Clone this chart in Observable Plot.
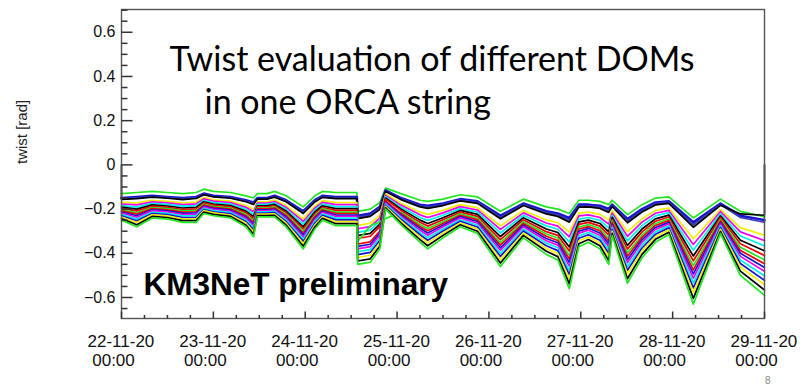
<!DOCTYPE html>
<html>
<head>
<meta charset="utf-8">
<script src="https://cdn.jsdelivr.net/npm/d3@7"></script>
<script src="https://cdn.jsdelivr.net/npm/@observablehq/plot@0.6"></script>
<style>
  html, body { margin: 0; padding: 0; background: #fff; }
  #chart { width: 808px; height: 385px; overflow: hidden; }
</style>
</head>
<body>
<div id="chart"></div>
<script>
// Time axis: 22-11-20 00:00 to 29-11-20 00:00 (UTC)
const runStart = Date.UTC(2020, 10, 22);
const runEnd = Date.UTC(2020, 10, 29);
const yDomain = [-0.695, 0.703];

// Hours since run start at which the twist was read out
const hours = [0, 4, 8, 12, 16, 19.5, 21.5, 24, 28.5, 32.5,
  34.5, 35.5, 38, 40, 43, 47.5, 50.5, 52.5, 56, 61.5,
  61.7, 65, 67.5, 69, 73, 78, 80, 84, 88.5, 93,
  99, 105, 111, 114, 117, 119.5, 122, 125, 127.3, 128.2,
  132.2, 136, 139.5, 143, 149.4, 156.5, 161.7, 168];

// Twist [rad]; one row per readout time, columns are DOM 1 ... DOM 18
const twistRows = [
  [-0.13, -0.15, -0.153, -0.156, -0.17, -0.177, -0.184, -0.191, -0.197, -0.203, -0.208, -0.213, -0.218, -0.224, -0.23, -0.236, -0.243, -0.25],
  [-0.125, -0.145, -0.149, -0.153, -0.172, -0.181, -0.191, -0.2, -0.208, -0.217, -0.223, -0.23, -0.237, -0.245, -0.253, -0.261, -0.271, -0.28],
  [-0.12, -0.14, -0.143, -0.146, -0.16, -0.167, -0.174, -0.181, -0.187, -0.193, -0.198, -0.203, -0.208, -0.214, -0.22, -0.226, -0.233, -0.24],
  [-0.125, -0.145, -0.148, -0.151, -0.165, -0.172, -0.179, -0.186, -0.192, -0.198, -0.203, -0.208, -0.213, -0.219, -0.225, -0.231, -0.238, -0.245],
  [-0.13, -0.15, -0.153, -0.157, -0.172, -0.18, -0.187, -0.195, -0.202, -0.208, -0.214, -0.219, -0.225, -0.231, -0.238, -0.245, -0.252, -0.26],
  [-0.125, -0.145, -0.148, -0.152, -0.168, -0.176, -0.184, -0.192, -0.199, -0.206, -0.212, -0.217, -0.223, -0.23, -0.237, -0.244, -0.252, -0.26],
  [-0.11, -0.13, -0.133, -0.135, -0.148, -0.154, -0.161, -0.167, -0.172, -0.178, -0.182, -0.187, -0.191, -0.197, -0.202, -0.207, -0.214, -0.22],
  [-0.12, -0.14, -0.143, -0.145, -0.158, -0.164, -0.171, -0.177, -0.182, -0.188, -0.192, -0.197, -0.201, -0.207, -0.212, -0.217, -0.224, -0.23],
  [-0.125, -0.145, -0.148, -0.151, -0.164, -0.171, -0.177, -0.184, -0.19, -0.195, -0.2, -0.205, -0.21, -0.215, -0.221, -0.227, -0.233, -0.24],
  [-0.14, -0.16, -0.164, -0.167, -0.184, -0.192, -0.201, -0.209, -0.216, -0.224, -0.23, -0.236, -0.242, -0.249, -0.256, -0.263, -0.272, -0.28],
  [-0.15, -0.17, -0.175, -0.179, -0.201, -0.212, -0.223, -0.234, -0.243, -0.252, -0.26, -0.268, -0.275, -0.285, -0.294, -0.303, -0.314, -0.325],
  [-0.13, -0.15, -0.153, -0.155, -0.167, -0.173, -0.179, -0.185, -0.19, -0.195, -0.199, -0.204, -0.208, -0.213, -0.218, -0.223, -0.229, -0.235],
  [-0.13, -0.15, -0.153, -0.155, -0.167, -0.173, -0.179, -0.185, -0.19, -0.195, -0.199, -0.204, -0.208, -0.213, -0.218, -0.223, -0.229, -0.235],
  [-0.12, -0.14, -0.143, -0.146, -0.159, -0.166, -0.172, -0.179, -0.185, -0.19, -0.195, -0.2, -0.205, -0.21, -0.216, -0.222, -0.228, -0.235],
  [-0.14, -0.16, -0.164, -0.167, -0.184, -0.192, -0.201, -0.209, -0.216, -0.224, -0.23, -0.236, -0.242, -0.249, -0.256, -0.263, -0.272, -0.28],
  [-0.19, -0.21, -0.215, -0.22, -0.244, -0.256, -0.268, -0.28, -0.29, -0.3, -0.309, -0.317, -0.326, -0.336, -0.346, -0.356, -0.368, -0.38],
  [-0.14, -0.16, -0.164, -0.168, -0.186, -0.195, -0.204, -0.213, -0.221, -0.229, -0.235, -0.242, -0.248, -0.256, -0.264, -0.272, -0.281, -0.29],
  [-0.12, -0.14, -0.143, -0.147, -0.162, -0.17, -0.177, -0.185, -0.192, -0.198, -0.204, -0.209, -0.215, -0.221, -0.228, -0.235, -0.242, -0.25],
  [-0.125, -0.145, -0.149, -0.153, -0.171, -0.18, -0.189, -0.198, -0.206, -0.214, -0.22, -0.227, -0.233, -0.241, -0.249, -0.257, -0.266, -0.275],
  [-0.125, -0.145, -0.149, -0.153, -0.171, -0.18, -0.189, -0.198, -0.206, -0.214, -0.22, -0.227, -0.233, -0.241, -0.249, -0.257, -0.266, -0.275],
  [-0.21, -0.23, -0.237, -0.243, -0.274, -0.289, -0.305, -0.32, -0.333, -0.347, -0.358, -0.369, -0.38, -0.393, -0.406, -0.419, -0.435, -0.45],
  [-0.2, -0.22, -0.227, -0.233, -0.264, -0.279, -0.295, -0.31, -0.323, -0.275, -0.348, -0.359, -0.37, -0.383, -0.396, -0.409, -0.425, -0.44],
  [-0.17, -0.19, -0.196, -0.201, -0.228, -0.241, -0.255, -0.268, -0.279, -0.257, -0.3, -0.31, -0.319, -0.331, -0.342, -0.353, -0.367, -0.38],
  [-0.105, -0.115, -0.118, -0.12, -0.132, -0.138, -0.144, -0.15, -0.155, -0.243, -0.164, -0.169, -0.173, -0.178, -0.183, -0.188, -0.194, -0.2],
  [-0.13, -0.15, -0.154, -0.157, -0.174, -0.182, -0.191, -0.199, -0.206, -0.214, -0.22, -0.226, -0.232, -0.239, -0.246, -0.253, -0.262, -0.27],
  [-0.16, -0.18, -0.185, -0.19, -0.214, -0.226, -0.238, -0.25, -0.26, -0.27, -0.279, -0.287, -0.296, -0.306, -0.316, -0.326, -0.338, -0.35],
  [-0.165, -0.185, -0.191, -0.197, -0.224, -0.238, -0.251, -0.265, -0.277, -0.288, -0.298, -0.308, -0.318, -0.329, -0.341, -0.353, -0.366, -0.38],
  [-0.155, -0.175, -0.18, -0.184, -0.206, -0.217, -0.228, -0.239, -0.248, -0.257, -0.265, -0.273, -0.28, -0.29, -0.299, -0.308, -0.319, -0.33],
  [-0.135, -0.155, -0.159, -0.163, -0.18, -0.189, -0.198, -0.206, -0.214, -0.221, -0.228, -0.234, -0.24, -0.248, -0.255, -0.263, -0.271, -0.28],
  [-0.145, -0.165, -0.169, -0.174, -0.194, -0.204, -0.214, -0.224, -0.233, -0.242, -0.249, -0.256, -0.264, -0.272, -0.281, -0.29, -0.3, -0.31],
  [-0.21, -0.23, -0.237, -0.244, -0.276, -0.292, -0.308, -0.324, -0.338, -0.352, -0.363, -0.375, -0.386, -0.4, -0.414, -0.428, -0.444, -0.46],
  [-0.155, -0.175, -0.18, -0.184, -0.206, -0.217, -0.228, -0.239, -0.248, -0.257, -0.265, -0.273, -0.28, -0.29, -0.299, -0.308, -0.319, -0.33],
  [-0.19, -0.21, -0.216, -0.222, -0.249, -0.263, -0.276, -0.29, -0.302, -0.313, -0.323, -0.333, -0.343, -0.354, -0.366, -0.378, -0.391, -0.405],
  [-0.2, -0.22, -0.226, -0.233, -0.262, -0.277, -0.291, -0.306, -0.319, -0.331, -0.342, -0.352, -0.363, -0.375, -0.388, -0.401, -0.415, -0.43],
  [-0.22, -0.24, -0.25, -0.259, -0.304, -0.326, -0.349, -0.371, -0.39, -0.41, -0.426, -0.442, -0.458, -0.477, -0.496, -0.515, -0.538, -0.56],
  [-0.16, -0.18, -0.186, -0.191, -0.218, -0.231, -0.245, -0.258, -0.269, -0.281, -0.29, -0.3, -0.309, -0.321, -0.332, -0.343, -0.357, -0.37],
  [-0.16, -0.18, -0.185, -0.19, -0.214, -0.226, -0.238, -0.25, -0.26, -0.27, -0.279, -0.287, -0.296, -0.306, -0.316, -0.326, -0.338, -0.35],
  [-0.165, -0.185, -0.191, -0.197, -0.224, -0.238, -0.251, -0.265, -0.277, -0.288, -0.298, -0.308, -0.318, -0.329, -0.341, -0.353, -0.366, -0.38],
  [-0.18, -0.2, -0.208, -0.215, -0.25, -0.268, -0.285, -0.303, -0.318, -0.333, -0.345, -0.358, -0.37, -0.385, -0.4, -0.415, -0.433, -0.45],
  [-0.16, -0.18, -0.184, -0.188, -0.208, -0.218, -0.228, -0.237, -0.246, -0.254, -0.261, -0.268, -0.275, -0.284, -0.292, -0.3, -0.31, -0.32],
  [-0.225, -0.245, -0.254, -0.262, -0.303, -0.323, -0.344, -0.364, -0.381, -0.399, -0.413, -0.428, -0.442, -0.46, -0.477, -0.494, -0.515, -0.535],
  [-0.18, -0.2, -0.207, -0.213, -0.244, -0.259, -0.275, -0.29, -0.303, -0.317, -0.328, -0.339, -0.35, -0.363, -0.376, -0.389, -0.405, -0.42],
  [-0.15, -0.17, -0.175, -0.181, -0.206, -0.219, -0.231, -0.244, -0.255, -0.265, -0.274, -0.283, -0.292, -0.303, -0.314, -0.325, -0.337, -0.35],
  [-0.145, -0.165, -0.17, -0.174, -0.195, -0.206, -0.216, -0.227, -0.236, -0.245, -0.252, -0.26, -0.267, -0.276, -0.285, -0.294, -0.305, -0.315],
  [-0.24, -0.26, -0.271, -0.282, -0.334, -0.36, -0.386, -0.412, -0.434, -0.456, -0.475, -0.493, -0.512, -0.534, -0.556, -0.578, -0.604, -0.63],
  [-0.155, -0.175, -0.179, -0.183, -0.202, -0.211, -0.221, -0.23, -0.238, -0.247, -0.253, -0.26, -0.267, -0.275, -0.283, -0.291, -0.301, -0.31],
  [-0.21, -0.23, -0.238, -0.222, -0.284, -0.303, -0.322, -0.341, -0.357, -0.373, -0.387, -0.4, -0.414, -0.43, -0.446, -0.462, -0.481, -0.5],
  [-0.235, -0.25, -0.26, -0.228, -0.318, -0.342, -0.366, -0.389, -0.41, -0.43, -0.447, -0.464, -0.481, -0.502, -0.522, -0.542, -0.566, -0.59]
];

// Line colour of each DOM (ROOT palette)
const domColors = ["#22e622", "#1414d0", "#3a38b8", "#000000", "#f0f000", "#f000f0",
  "#00eeee", "#000000", "#f00000", "#22e622", "#f00000", "#1414d0",
  "#f000f0", "#00eeee", "#1414d0", "#f0f000", "#000000", "#22e622"];

// DOM 4 is drawn from zero at the first bin and back to zero at the last bin
const edgeDom = 3;
const edgeValues = [0, 0];

// Axis ticks and labels
const yMajor = [-0.6, -0.4, -0.2, 0, 0.2, 0.4, 0.6];
const yMinor = [-0.65, -0.55, -0.5, -0.45, -0.35, -0.3, -0.25, -0.15, -0.1, -0.05,
  0.05, 0.1, 0.15, 0.25, 0.3, 0.35, 0.45, 0.5, 0.55, 0.65, 0.7];
const dayLabels = ["22-11-20", "23-11-20", "24-11-20", "25-11-20", "26-11-20", "27-11-20", "28-11-20", "29-11-20"];
const timeLabel = "00:00";

const titleLines = ["Twist evaluation of different DOMs", "in one ORCA string"];
const stamp = "KM3NeT preliminary";
const yLabel = "twist [rad]";
const pageNumber = "8";

const hourMs = 3600e3;
const dayTicks = dayLabels.map((_, i) => new Date(runStart + i * 24 * hourMs));
const sixHourTicks = d3.utcHour.every(6).range(new Date(runStart), new Date(runEnd + 1))
  .filter(d => d.getUTCHours() !== 0);

// Frame size in pixels, and tick lengths converted to data units
const W = 808, H = 385;
const margin = {top: 9, right: 44, bottom: 67, left: 121};
const frameW = W - margin.left - margin.right;
const frameH = H - margin.top - margin.bottom;
const msPerPx = (runEnd - runStart) / frameW;
const yPerPx = (yDomain[1] - yDomain[0]) / frameH;
const tickLen = {yMajor: 11, yMinor: 6, xMajor: 7, xMinor: 3.5};

// Tick segments as explicit endpoint records
const yTickRows = [
  ...yMajor.map(v => ({t0: new Date(runStart), t1: new Date(runStart + tickLen.yMajor * msPerPx), v0: v, v1: v})),
  ...yMinor.map(v => ({t0: new Date(runStart), t1: new Date(runStart + tickLen.yMinor * msPerPx), v0: v, v1: v}))
];
const xTickRows = [
  ...dayTicks.map(t => ({t0: t, t1: t, v0: yDomain[0], v1: yDomain[0] + tickLen.xMajor * yPerPx})),
  ...sixHourTicks.map(t => ({t0: t, t1: t, v0: yDomain[0], v1: yDomain[0] + tickLen.xMinor * yPerPx}))
];

const seriesMarks = domColors.map((color, k) => {
  let pts = hours.map((h, i) => ({time: new Date(runStart + h * hourMs), twist: twistRows[i][k]}));
  if (k === edgeDom) {
    pts = [{time: pts[0].time, twist: edgeValues[0]}, ...pts,
           {time: pts[pts.length - 1].time, twist: edgeValues[1]}];
  }
  return Plot.lineY(pts, {
    x: "time", y: "twist", stroke: color,
    strokeWidth: k === 1 ? 2.6 : 1.7, strokeLinejoin: "round"
  });
});

const fmtDay = d => dayLabels[Math.round((d - runStart) / (24 * hourMs))] + "\n\u00a0" + timeLabel;

const chart = Plot.plot({
  width: W,
  height: H,
  marginTop: margin.top,
  marginBottom: margin.bottom,
  marginLeft: margin.left,
  marginRight: margin.right,
  style: {fontFamily: "'Liberation Sans', Arial, sans-serif", fontSize: "16px", color: "#111", background: "#fff"},
  x: {type: "utc", domain: [new Date(runStart), new Date(runEnd)], label: null},
  y: {domain: yDomain, label: null},
  marks: [
    ...seriesMarks,
    Plot.frame({stroke: "#555", strokeWidth: 1.4}),
    // inward-pointing ticks, ROOT style
    Plot.link(yTickRows, {x1: "t0", x2: "t1", y1: "v0", y2: "v1", stroke: "#333", strokeWidth: 1.5}),
    Plot.link(xTickRows, {x1: "t0", x2: "t1", y1: "v0", y2: "v1", stroke: "#333", strokeWidth: 1.5}),
    Plot.axisY(yMajor, {anchor: "left", tickSize: 0, tickPadding: 6, fontSize: 16,
      tickFormat: d => d === 0 ? "0" : d3.format(".1f")(d)}),
    Plot.axisX(dayTicks, {anchor: "bottom", tickSize: 0, tickPadding: 15.5, fontSize: 17,
      tickFormat: fmtDay, textAnchor: "start", dx: -34, lineHeight: 1.1}),
    Plot.text([yLabel], {frameAnchor: "left", dx: -99, rotate: -90, fontSize: 15, fill: "#222"}),
    Plot.text([titleLines[0]], {frameAnchor: "top-left", dx: 48, dy: 61, lineAnchor: "bottom",
      textAnchor: "start", fontFamily: "Lato, 'Open Sans', sans-serif", fontSize: 34, fill: "#000"}),
    Plot.text([titleLines[1]], {frameAnchor: "top-left", dx: 83, dy: 104, lineAnchor: "bottom",
      textAnchor: "start", fontFamily: "Lato, 'Open Sans', sans-serif", fontSize: 34, fill: "#000"}),
    Plot.text([stamp], {frameAnchor: "top-left", dx: 22, dy: 285, lineAnchor: "bottom",
      textAnchor: "start", fontWeight: "bold", fontSize: 31.5, fill: "#000"}),
    Plot.text([pageNumber], {frameAnchor: "bottom-right", dx: 6, dy: 65, lineAnchor: "bottom",
      fontSize: 10, fill: "#888"})
  ]
});

document.getElementById("chart").append(chart);
</script>
</body>
</html>
